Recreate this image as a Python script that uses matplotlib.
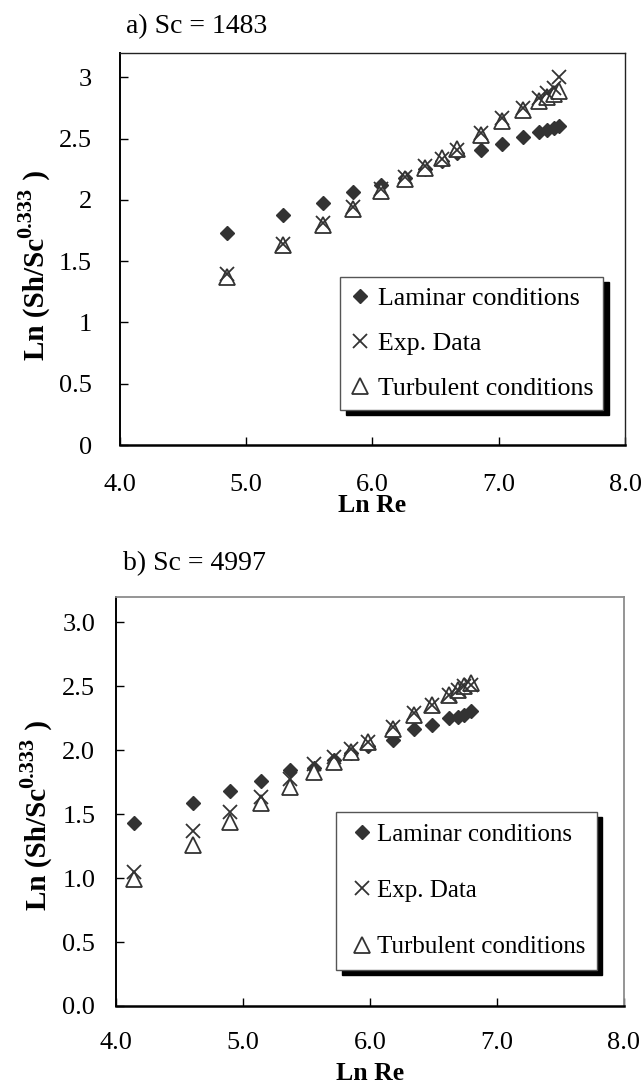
import numpy as np
import matplotlib
matplotlib.use('Agg')
import matplotlib.pyplot as plt
from matplotlib.lines import Line2D

plt.rcParams['font.family'] = ['Liberation Serif', 'DejaVu Serif']

# a) Sc = 1483
re_a = [4.847, 5.297, 5.608, 5.847, 6.071, 6.256, 6.420, 6.548, 6.670,
        6.862, 7.030, 7.193, 7.319, 7.385, 7.438, 7.480]
lam_a = [1.731, 1.876, 1.978, 2.066, 2.120, 2.180, 2.250, 2.320, 2.380,
         2.404, 2.459, 2.514, 2.555, 2.569, 2.582, 2.604]
exp_a = [1.396, 1.643, 1.813, 1.945, 2.088, 2.184, 2.275, 2.335, 2.404,
         2.541, 2.665, 2.747, 2.830, 2.871, 2.912, 3.000]
turb_a = [1.368, 1.629, 1.794, 1.926, 2.069, 2.170, 2.258, 2.341, 2.415,
          2.527, 2.646, 2.734, 2.810, 2.835, 2.865, 2.885]

# b) Sc = 4997
re_b = [4.138, 4.604, 4.900, 5.142, 5.366, 5.559, 5.717, 5.847, 5.982,
        6.178, 6.346, 6.489, 6.620, 6.690, 6.742, 6.792]
lam_b = [1.432, 1.591, 1.680, 1.759, 1.843, 1.860, 1.920, 1.980, 2.030,
         2.079, 2.170, 2.196, 2.249, 2.262, 2.275, 2.306]
exp_b = [1.048, 1.367, 1.518, 1.636, 1.777, 1.895, 1.948, 2.013, 2.065,
         2.183, 2.288, 2.353, 2.432, 2.471, 2.505, 2.510]
turb_b = [0.996, 1.257, 1.440, 1.584, 1.712, 1.830, 1.908, 1.987, 2.065,
          2.170, 2.275, 2.353, 2.432, 2.471, 2.505, 2.524]

xticks = [4.0, 5.0, 6.0, 7.0, 8.0]
yticks = [0, 0.5, 1, 1.5, 2, 2.5, 3]
ylabels_a = ['0', '0.5', '1', '1.5', '2', '2.5', '3']
ylabels_b = ['0.0', '0.5', '1.0', '1.5', '2.0', '2.5', '3.0']
legend_labels = ['Laminar conditions', 'Exp. Data', 'Turbulent conditions']

W, H = 643, 1086
fig = plt.figure(figsize=(W / 100, H / 100), dpi=100)
fig.patch.set_facecolor('white')

dark = '#333333'
FS = 19


def px_axes(l, r, t, b):
    return fig.add_axes([l / W, 1 - b / H, (r - l) / W, (b - t) / H])


def draw(ax, re, lam, exp, turb, ylabs, ypad, xpad, anchor, lfs, lspace, bpad, hlen, htpad):
    ax.plot(re, lam, 'D', ms=7.3, color=dark, mec=dark, zorder=3)
    ax.plot(re, turb, '^', ms=11, mfc='white', mec=dark, mew=1.3, zorder=4)
    ax.plot(re, exp, 'x', ms=10, color=dark, mew=1.3, zorder=5)

    ax.set_xlim(4, 8)
    ax.set_ylim(0, 3.2)
    ax.set_xticks(xticks)
    ax.set_xticklabels(['%.1f' % v for v in xticks])
    ax.set_yticks(yticks)
    ax.set_yticklabels(ylabs)
    ax.tick_params(axis='x', direction='in', length=6, width=1, pad=xpad,
                   labelsize=FS)
    ax.tick_params(axis='y', direction='in', length=6, width=1, pad=ypad,
                   labelsize=FS)

    handles = [
        Line2D([], [], ls='none', marker='D', ms=7.3, color=dark),
        Line2D([], [], ls='none', marker='x', ms=10, color=dark, mew=1.3),
        Line2D([], [], ls='none', marker='^', ms=11, mfc='white', mec=dark, mew=1.3),
    ]
    leg = ax.legend(handles, legend_labels,
                    loc='upper right', bbox_to_anchor=anchor,
                    fontsize=lfs, frameon=True, fancybox=False,
                    handlelength=hlen, handletextpad=htpad,
                    labelspacing=lspace, borderpad=bpad, borderaxespad=0,
                    shadow={'ox': 3.8, 'oy': -3.8, 'color': 'black', 'alpha': 1})
    leg.get_frame().set_edgecolor('#555555')
    leg.get_frame().set_linewidth(1.0)
    return ax


def ylabel(xc, yc):
    # bold label with a large superscript, rotated; xc = baseline x, yc = centre y (px)
    r = fig.canvas.get_renderer()
    pieces = [('Ln (Sh/Sc', 21, 0), ('0.333', 16, 13), (' )', 21, 0)]
    texts = []
    for s, fs, rise in pieces:
        t = fig.text(0, 0, s, fontsize=fs, fontweight='bold', rotation=90,
                     rotation_mode='anchor', ha='left', va='baseline')
        texts.append((t, rise))
    lengths = [t.get_window_extent(r).height for t, _ in texts]
    y = yc + sum(lengths) / 2
    for (t, rise), ln in zip(texts, lengths):
        t.set_position(((xc - rise) / W, 1 - y / H))
        y -= ln


# Top chart
ax1 = px_axes(119.6, 625, 52.7, 445)
draw(ax1, re_a, lam_a, exp_a, turb_a, ylabels_a, 20, 21,
     (0.957, 0.428), 18.6, 0.84, 0.39, 0.70, 0.35)
for s in ['top', 'right']:
    ax1.spines[s].set_color('#222222')
    ax1.spines[s].set_linewidth(1.0)
ax1.spines['bottom'].set_linewidth(1.8)
ax1.spines['left'].set_linewidth(1.4)

# Bottom chart
ax2 = px_axes(116.2, 624, 596.8, 1006)
draw(ax2, re_b, lam_b, exp_b, turb_b, ylabels_b, 15, 19,
     (0.946, 0.474), 18, 1.35, 0.45, 1.12, 0.05)
for s in ['top', 'right']:
    ax2.spines[s].set_color('#8c8c8c')
    ax2.spines[s].set_linewidth(1.3)
ax2.spines['bottom'].set_linewidth(1.8)
ax2.spines['left'].set_linewidth(1.4)

# Titles and axis labels
fig.text(126 / W, 1 - 27 / H, 'a) Sc = 1483', fontsize=20, va='center', ha='left')
fig.text(123 / W, 1 - 564 / H, 'b) Sc = 4997', fontsize=20, va='center', ha='left')

ylabel(44, 265)
ylabel(46, 815)

fig.text(372 / W, 1 - 506 / H, 'Ln Re', fontsize=18.5, fontweight='bold',
         va='center', ha='center')
fig.text(370 / W, 1 - 1073 / H, 'Ln Re', fontsize=18.5, fontweight='bold',
         va='center', ha='center')

fig.savefig('out.png', dpi=100, facecolor='white')
